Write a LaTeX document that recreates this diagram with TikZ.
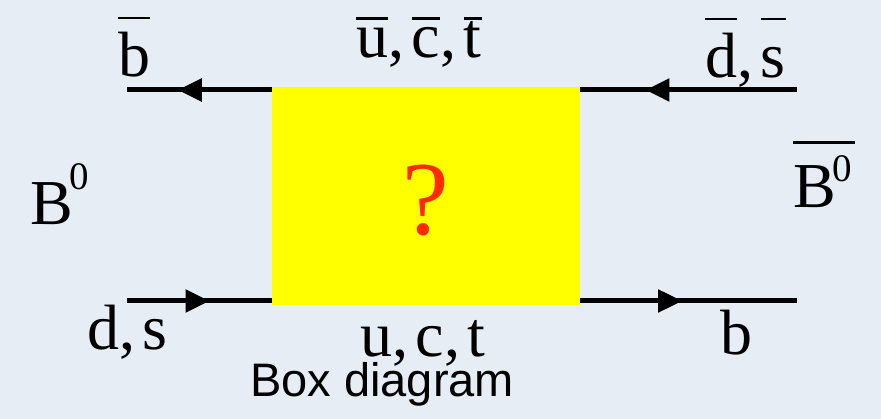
\documentclass[tikz,border=0pt]{standalone}
\usepackage{fontspec}
\setmainfont{Liberation Serif}
\setsansfont{Liberation Sans}
\usetikzlibrary{
	positioning,
	arrows.meta,
	decorations.markings
}
\definecolor{bgcolor}{HTML}{E6EDF5}
\definecolor{boxcolor}{HTML}{FFFF00}
\definecolor{askcolor}{HTML}{FF2A00}
\tikzset{
	quarkline/.style={
		line width=5pt,
		postaction={decorate},
		decoration={markings,
			mark=at position #1 with {\arrow{Triangle[length=24pt,width=22pt]}}}
	},
	flavour/.style={
		inner sep=0pt,
		font=\fontsize{64}{70}\selectfont
	},
	caption/.style={
		inner sep=0pt,
		font=\sffamily\fontsize{47}{52}\selectfont
	}
}
\newcommand{\barq}[2][0.9em]{\setbox0\hbox{#2}\rlap{\rule[#1]{\wd0}{0.045em}}\box0}
\newcommand{\sups}[2][0.55em]{\kern-0.06em\raisebox{#1}{\fontsize{39}{39}\selectfont #2}}
\newcommand{\qsep}{,\hspace{0.12em}}

\begin{document}
\begin{tikzpicture}[x=1pt,y=-1pt]

	% Background
	\fill[bgcolor] (0,0) rectangle (881,419);

	% Box
	\node[fill=boxcolor, minimum width=308pt, minimum height=218pt,
	inner sep=0pt, anchor=north west] (box) at (272,87) {};
	\node[inner sep=0pt, anchor=base, text=askcolor,
	font=\fontsize{105}{110}\selectfont] (ask) at (426,235) {?};

	% Line ends
	\coordinate (tl) at (127,90);
	\coordinate (tr) at (797,90);
	\coordinate (bl) at (127,301);
	\coordinate (br) at (797,301);

	% Quark lines
	\draw[quarkline=0.65] (tl -| box.west) -- (tl);
	\draw[quarkline=0.70] (tr) -- (tr -| box.east);
	\draw[quarkline=0.57] (bl) -- (bl -| box.west);
	\draw[quarkline=0.47] (br -| box.east) -- (br);

	% Labels
	\node[flavour, anchor=base west] (bbar) at (118,77) {\barq{b}};
	\node[flavour, anchor=base] (ucttop) at (419,58)
	{\barq[0.6em]{u}\qsep\barq[0.6em]{c}\qsep\barq[0.6em]{t}};
	\node[flavour, anchor=base west] (dsbar) at (705,78) {\barq{d}\qsep\barq{s}};
	\node[flavour, anchor=base west] (bzero) at (30,225) {B\sups{0}};
	\node[flavour, anchor=base west] (bzerobar) at (793,208)
	{\barq[1.0em]{B\sups[0.42em]{0}\kern0.05em}};
	\node[flavour, anchor=base west] (ds) at (87,350) {d\qsep s};
	\node[flavour, anchor=base] (uct) at (423,357) {u\qsep c\qsep t};
	\node[flavour, anchor=base west] (b) at (720,355) {b};
	\node[caption, anchor=base west] (cap) at (250,397) {Box diagram};

\end{tikzpicture}
\end{document}
